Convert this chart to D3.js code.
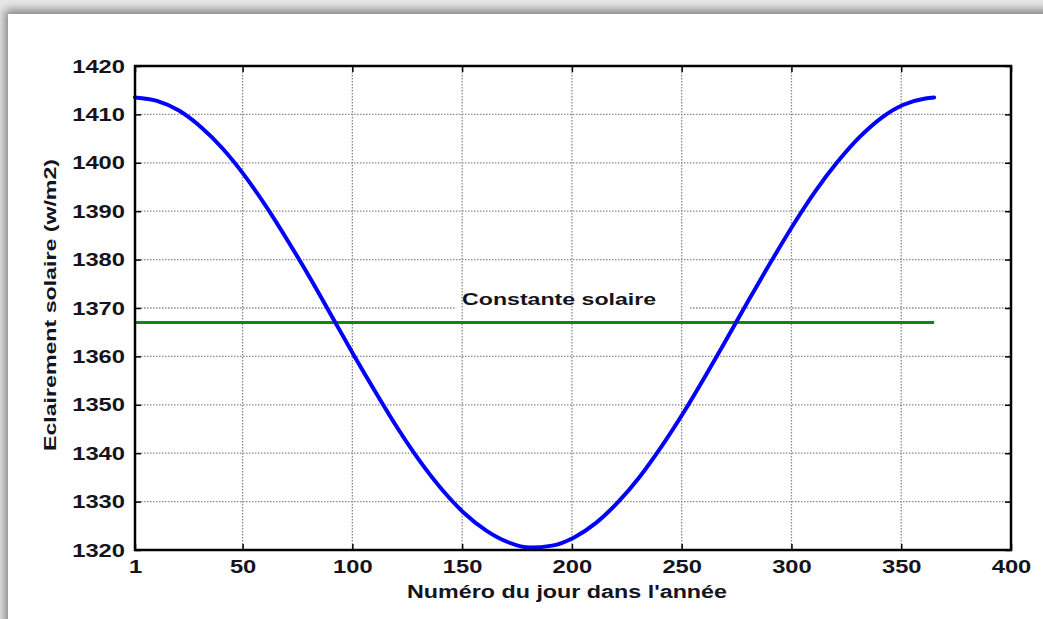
<!DOCTYPE html>
<html>
<head>
<meta charset="utf-8">
<script src="https://cdn.jsdelivr.net/npm/d3@7"></script>
<style>
  html, body { margin: 0; padding: 0; background: #fff; }
  svg { display: block; }
  text { font-family: "Liberation Sans", Arial, sans-serif; font-weight: bold; fill: #141420; }
</style>
</head>
<body>
<svg id="chart" width="1043" height="619"></svg>
<script>
// Day of year and extraterrestrial solar irradiance (W/m2)
const days = [1, 11, 21, 31, 41, 51, 61, 71, 81, 91, 101, 111, 121, 131, 141, 151, 161, 171, 181, 191,
              201, 211, 221, 231, 241, 251, 261, 271, 281, 291, 301, 311, 321, 331, 341, 351, 361, 365];
const irradiance = [1413.5, 1412.8, 1410.8, 1407.4, 1402.9, 1397.3, 1390.8, 1383.6, 1376.0, 1368.0,
                    1360.0, 1352.3, 1344.9, 1338.2, 1332.4, 1327.6, 1324.0, 1321.6, 1320.5, 1320.9,
                    1322.6, 1325.6, 1329.9, 1335.2, 1341.5, 1348.5, 1356.1, 1364.0, 1372.0, 1379.8,
                    1387.3, 1394.2, 1400.2, 1405.3, 1409.3, 1412.0, 1413.3, 1413.5];
const solarConstant = 1367;
const constantSpan = [1, 365];
const xTicks = [1, 50, 100, 150, 200, 250, 300, 350, 400];
const yTicks = [1320, 1330, 1340, 1350, 1360, 1370, 1380, 1390, 1400, 1410, 1420];
const xTitle = "Numéro du jour dans l'année";
const yTitle = "Eclairement solaire (w/m2)";
const annotation = "Constante solaire";

const svg = d3.select("#chart");
const W = 1043, H = 619;
const L = 135, R = 1011, T = 66, B = 550;

const x = d3.scaleLinear().domain([1, 400]).range([L, R]);
const y = d3.scaleLinear().domain([1320, 1420]).range([B, T]);

// page frame with a soft shadow round the white card
const defs = svg.append("defs");
const blur = defs.append("filter").attr("id", "shadow").attr("x", "-10%").attr("y", "-10%").attr("width", "120%").attr("height", "120%");
blur.append("feGaussianBlur").attr("stdDeviation", 5);
svg.append("rect").attr("width", W).attr("height", H).attr("fill", "#e6e6e6");
svg.append("rect").attr("x", 5).attr("y", 10).attr("width", W + 40).attr("height", H + 40)
  .attr("fill", "#808080").attr("filter", "url(#shadow)");
svg.append("rect").attr("x", 8).attr("y", 14).attr("width", W).attr("height", H).attr("fill", "#fff");

const gridStyle = g => g.attr("stroke", "#8a8a8a").attr("stroke-width", 1.3).attr("stroke-dasharray", "1.5,1.5").attr("fill", "none");

// horizontal grid
svg.append("g").call(gridStyle)
  .selectAll("line").data(yTicks.slice(1, -1)).join("line")
  .attr("x1", L).attr("x2", R).attr("y1", d => y(d)).attr("y2", d => y(d));

// annotation with its white backing
const note = svg.append("text")
  .attr("x", x(150)).attr("y", y(1370) - 3)
  .attr("font-size", 17)
  .attr("textLength", 194).attr("lengthAdjust", "spacingAndGlyphs")
  .text(annotation);
const nb = note.node().getBBox();
svg.insert("rect", "text")
  .attr("x", nb.x - 6).attr("y", nb.y - 2)
  .attr("width", nb.width + 40).attr("height", y(1370) - nb.y + 4)
  .attr("fill", "#fff");

// vertical grid
svg.append("g").call(gridStyle)
  .selectAll("line").data(xTicks.slice(1, -1)).join("line")
  .attr("x1", d => x(d)).attr("x2", d => x(d)).attr("y1", T).attr("y2", B);

// solar constant
svg.append("line")
  .attr("x1", x(constantSpan[0])).attr("x2", x(constantSpan[1]))
  .attr("y1", y(solarConstant)).attr("y2", y(solarConstant))
  .attr("stroke", "#0a8a0a").attr("stroke-width", 3);

// irradiance through the year
const line = d3.line().x((d, i) => x(days[i])).y(d => y(d)).curve(d3.curveMonotoneX);
svg.append("path").datum(irradiance)
  .attr("d", line)
  .attr("fill", "none").attr("stroke", "#0000ff").attr("stroke-width", 4)
  .attr("stroke-linecap", "round");

note.raise();

// inward ticks on all four sides
const tickLen = 6;
const noLabel = () => "";
function styleTicks(g) {
  g.select(".domain").remove();
  g.selectAll("line").attr("stroke", "#000").attr("stroke-width", 1.5);
}
svg.append("g").attr("transform", `translate(0,${B})`)
  .call(d3.axisBottom(x).tickValues(xTicks).tickSize(-tickLen).tickFormat(noLabel)).call(styleTicks);
svg.append("g").attr("transform", `translate(0,${T})`)
  .call(d3.axisTop(x).tickValues(xTicks).tickSize(-tickLen).tickFormat(noLabel)).call(styleTicks);
svg.append("g").attr("transform", `translate(${L},0)`)
  .call(d3.axisLeft(y).tickValues(yTicks).tickSize(-tickLen).tickFormat(noLabel)).call(styleTicks);
svg.append("g").attr("transform", `translate(${R},0)`)
  .call(d3.axisRight(y).tickValues(yTicks).tickSize(-tickLen).tickFormat(noLabel)).call(styleTicks);

// axes box
svg.append("rect").attr("x", L).attr("y", T).attr("width", R - L).attr("height", B - T)
  .attr("fill", "none").attr("stroke", "#000").attr("stroke-width", 2.5);

// tick labels
const gx = svg.append("g").attr("transform", `translate(0,${B})`)
  .call(d3.axisBottom(x).tickValues(xTicks).tickSize(0).tickPadding(10).tickFormat(d3.format("d")));
gx.select(".domain").remove();
gx.selectAll("text").attr("font-size", 19).attr("fill", "#141420")
  .attr("font-family", "Liberation Sans, Arial, sans-serif").attr("font-weight", "bold")
  .attr("lengthAdjust", "spacingAndGlyphs")
  .attr("textLength", d => String(d).length * 13.2);

const gy = svg.append("g").attr("transform", `translate(${L},0)`)
  .call(d3.axisLeft(y).tickValues(yTicks).tickSize(0).tickPadding(10).tickFormat(d3.format("d")));
gy.select(".domain").remove();
gy.selectAll("text").attr("font-size", 19).attr("fill", "#141420")
  .attr("font-family", "Liberation Sans, Arial, sans-serif").attr("font-weight", "bold")
  .attr("lengthAdjust", "spacingAndGlyphs")
  .attr("textLength", d => String(d).length * 13.2);

// axis titles
svg.append("text")
  .attr("x", (L + R) / 2 - 6).attr("y", 598)
  .attr("text-anchor", "middle").attr("font-size", 18)
  .attr("textLength", 320).attr("lengthAdjust", "spacingAndGlyphs")
  .text(xTitle);

svg.append("text")
  .attr("transform", `translate(56,${(T + B) / 2 - 3}) rotate(-90)`)
  .attr("text-anchor", "middle").attr("font-size", 17)
  .attr("textLength", 292).attr("lengthAdjust", "spacingAndGlyphs")
  .text(yTitle);
</script>
</body>
</html>
